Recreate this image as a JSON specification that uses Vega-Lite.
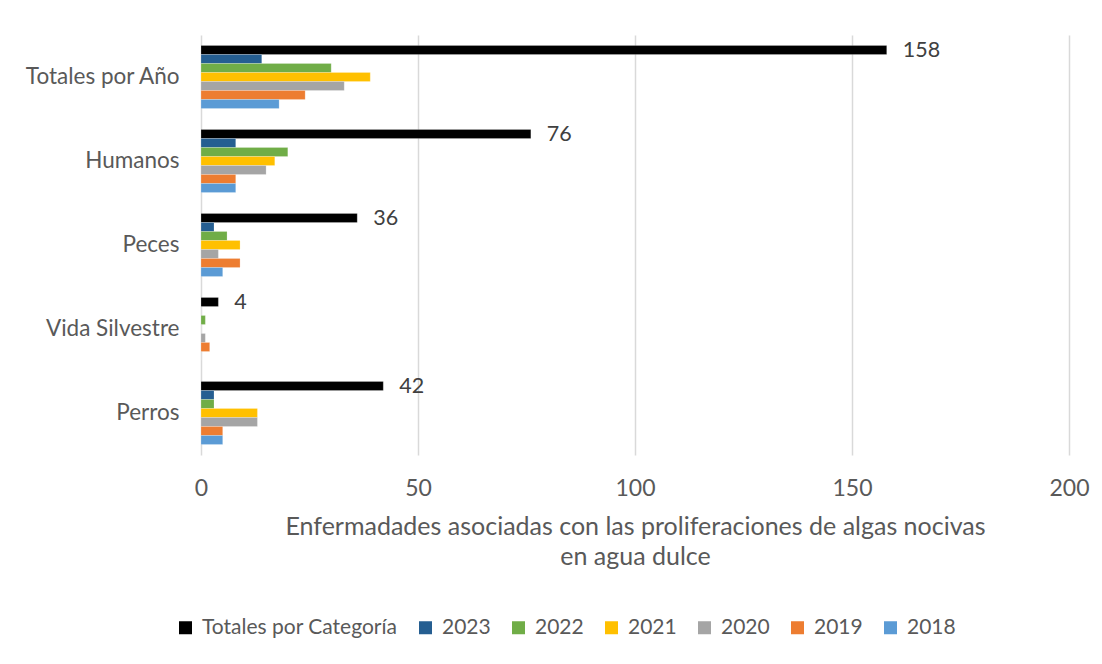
{
  "$schema": "https://vega.github.io/schema/vega-lite/v6.json",
  "width": 868,
  "height": 420,
  "autosize": {"type": "none"},
  "padding": {"left": 201, "top": 35, "right": 33, "bottom": 209},
  "background": "white",
  "config": {
    "font": "Lato",
    "view": {"stroke": null},
    "axis": {"labelColor": "#595959", "titleColor": "#595959", "labelFont": "Lato", "titleFont": "Lato"},
    "legend": {"labelColor": "#595959", "labelFont": "Lato"}
  },
  "data": {
    "values": [
      {"categoria": "Totales por Año", "serie": "Totales por Categoría", "valor": 158},
      {"categoria": "Totales por Año", "serie": "2023", "valor": 14},
      {"categoria": "Totales por Año", "serie": "2022", "valor": 30},
      {"categoria": "Totales por Año", "serie": "2021", "valor": 39},
      {"categoria": "Totales por Año", "serie": "2020", "valor": 33},
      {"categoria": "Totales por Año", "serie": "2019", "valor": 24},
      {"categoria": "Totales por Año", "serie": "2018", "valor": 18},
      {"categoria": "Humanos", "serie": "Totales por Categoría", "valor": 76},
      {"categoria": "Humanos", "serie": "2023", "valor": 8},
      {"categoria": "Humanos", "serie": "2022", "valor": 20},
      {"categoria": "Humanos", "serie": "2021", "valor": 17},
      {"categoria": "Humanos", "serie": "2020", "valor": 15},
      {"categoria": "Humanos", "serie": "2019", "valor": 8},
      {"categoria": "Humanos", "serie": "2018", "valor": 8},
      {"categoria": "Peces", "serie": "Totales por Categoría", "valor": 36},
      {"categoria": "Peces", "serie": "2023", "valor": 3},
      {"categoria": "Peces", "serie": "2022", "valor": 6},
      {"categoria": "Peces", "serie": "2021", "valor": 9},
      {"categoria": "Peces", "serie": "2020", "valor": 4},
      {"categoria": "Peces", "serie": "2019", "valor": 9},
      {"categoria": "Peces", "serie": "2018", "valor": 5},
      {"categoria": "Vida Silvestre", "serie": "Totales por Categoría", "valor": 4},
      {"categoria": "Vida Silvestre", "serie": "2023", "valor": 0},
      {"categoria": "Vida Silvestre", "serie": "2022", "valor": 1},
      {"categoria": "Vida Silvestre", "serie": "2021", "valor": 0},
      {"categoria": "Vida Silvestre", "serie": "2020", "valor": 1},
      {"categoria": "Vida Silvestre", "serie": "2019", "valor": 2},
      {"categoria": "Vida Silvestre", "serie": "2018", "valor": 0},
      {"categoria": "Perros", "serie": "Totales por Categoría", "valor": 42},
      {"categoria": "Perros", "serie": "2023", "valor": 3},
      {"categoria": "Perros", "serie": "2022", "valor": 3},
      {"categoria": "Perros", "serie": "2021", "valor": 13},
      {"categoria": "Perros", "serie": "2020", "valor": 13},
      {"categoria": "Perros", "serie": "2019", "valor": 5},
      {"categoria": "Perros", "serie": "2018", "valor": 5}
    ]
  },
  "encoding": {
    "y": {
      "field": "categoria", "type": "nominal",
      "sort": ["Totales por Año", "Humanos", "Peces", "Vida Silvestre", "Perros"],
      "scale": {"paddingInner": 0.25, "paddingOuter": 0.125},
      "axis": {"title": null, "labelFontSize": 22.5, "labelPadding": 22, "labelLimit": 250, "ticks": false, "domain": false, "grid": false}
    },
    "yOffset": {
      "field": "serie", "type": "nominal",
      "sort": ["Totales por Categoría", "2023", "2022", "2021", "2020", "2019", "2018"],
      "scale": {"paddingInner": 0, "paddingOuter": 0}
    },
    "x": {
      "field": "valor", "type": "quantitative",
      "scale": {"domain": [0, 200], "nice": false},
      "axis": {
        "values": [0, 50, 100, 150, 200], "ticks": false, "domain": false,
        "grid": true, "gridColor": "#d9d9d9", "gridWidth": 1.5,
        "labelFontSize": 23, "labelPadding": 22, "labelFlush": false, "labelBound": false, "labelOverlap": false,
        "title": ["Enfermadades asociadas con las proliferaciones de algas nocivas", "en agua dulce"],
        "titleFontSize": 25, "titleFontWeight": "normal", "titlePadding": 14, "titleLineHeight": 30
      }
    }
  },
  "layer": [
    {
      "mark": {"type": "bar", "stroke": "white", "strokeOpacity": 0.4, "strokeWidth": 0.5},
      "encoding": {
        "color": {
          "field": "serie", "type": "nominal",
          "sort": ["Totales por Categoría", "2023", "2022", "2021", "2020", "2019", "2018"],
          "scale": {
            "domain": ["Totales por Categoría", "2023", "2022", "2021", "2020", "2019", "2018"],
            "range": ["#000000", "#255E91", "#70AD47", "#FFC000", "#A5A5A5", "#ED7D31", "#5B9BD5"]
          },
          "legend": {
            "title": null, "orient": "none", "direction": "horizontal",
            "legendX": -26, "legendY": 582,
            "symbolType": "square", "symbolSize": 169, "symbolStrokeWidth": 0,
            "labelFontSize": 21, "labelLimit": 300, "labelOffset": 6, "columnPadding": 17
          }
        }
      }
    },
    {
      "transform": [{"filter": "datum.serie === 'Totales por Categoría'"}],
      "mark": {"type": "text", "align": "left", "baseline": "middle", "dx": 16, "dy": 1, "fontSize": 21.5, "color": "#404040", "font": "Lato"},
      "encoding": {
        "text": {"field": "valor", "type": "quantitative"}
      }
    }
  ]
}
